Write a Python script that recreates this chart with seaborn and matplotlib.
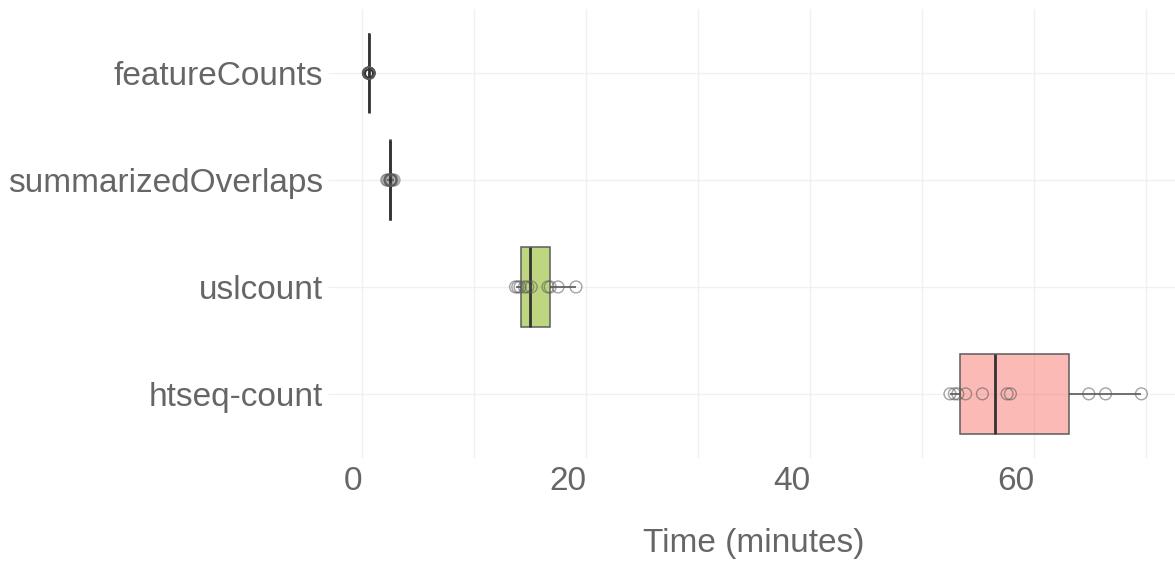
import numpy as np
import pandas as pd
import matplotlib
matplotlib.use("Agg")
import matplotlib.pyplot as plt
import matplotlib.colors as mcolors
import seaborn as sns

# ── Data ──────────────────────────────────────────────────────────────
tools = ["featureCounts", "summarizedOverlaps", "uslcount", "htseq-count"]
time_featurecounts = [0.55, 0.6, 0.6, 0.6, 0.6, 0.6, 0.6, 0.6, 0.6, 0.65]
time_summarized = [2.2, 2.3, 2.45, 2.5, 2.5, 2.55, 2.6, 2.6, 2.7, 2.85]
time_uslcount = [13.7, 13.9, 14.1, 14.5, 14.8, 15.1, 16.6, 16.8, 17.5, 19.1]
time_htseq = [52.5, 52.9, 53.2, 53.9, 55.4, 57.6, 57.9, 64.9, 66.4, 69.6]
tool_colors = ["#C77CFF", "#00BFC4", "#7CAE00", "#F8766D"]
x_ticks = [0, 20, 40, 60]
x_minor = [10, 30, 50, 70]

df = pd.DataFrame({
    "tool": np.repeat(tools, 10),
    "time": time_featurecounts + time_summarized + time_uslcount + time_htseq,
})

TEXT = "#666666"
GRID = "#F0F0F0"

sns.set_theme(style="white")
plt.rcParams["font.family"] = ["Liberation Sans", "DejaVu Sans"]

fig = plt.figure(figsize=(11.75, 5.66), dpi=100)
ax = fig.add_axes([333 / 1175, 1 - 458 / 566, 842 / 1175, 449 / 566])

sns.boxplot(data=df, x="time", y="tool", hue="tool", order=tools, hue_order=tools,
            palette=tool_colors, saturation=1, width=0.75, whis=np.inf,
            showcaps=False, legend=False, ax=ax,
            boxprops=dict(edgecolor="#5c5c5c", linewidth=1.1),
            whiskerprops=dict(color="#4a4a4a", linewidth=1.1),
            medianprops=dict(color="#333333", linewidth=2.0))
for p in ax.patches:
    p.set_facecolor(mcolors.to_rgba(p.get_facecolor(), 0.5))

# hollow points on top of the boxes
n_before = len(ax.collections)
sns.stripplot(data=df, x="time", y="tool", order=tools, jitter=False,
              size=8.5, color="#777777", ax=ax, zorder=5)
for coll in ax.collections[n_before:]:
    coll.set_facecolor("none")
    coll.set_edgecolor((0.35, 0.35, 0.35, 0.55))
    coll.set_linewidth(1.0)

ax.set_xlim(-2.6, 72.6)
ax.set_ylim(3.6, -0.6)
ax.set_xticks(x_ticks)
ax.set_xticks(x_minor, minor=True)
ax.set_xticklabels([str(t) for t in x_ticks], ha="right")
ax.grid(True, which="both", axis="x", color=GRID, linewidth=1.0)
ax.grid(True, which="major", axis="y", color=GRID, linewidth=1.0)
ax.set_axisbelow(True)
for s in ax.spines.values():
    s.set_visible(False)

ax.tick_params(axis="x", which="both", length=0, pad=6, labelsize=24, labelcolor=TEXT)
ax.tick_params(axis="y", length=3.6, width=0.8, color=GRID, pad=3.6,
               labelsize=24, labelcolor=TEXT, left=True)
ax.set_ylabel("")
ax.set_xlabel("Time (minutes)", fontsize=24, color=TEXT, labelpad=22)

fig.savefig("out.png", dpi=100)
